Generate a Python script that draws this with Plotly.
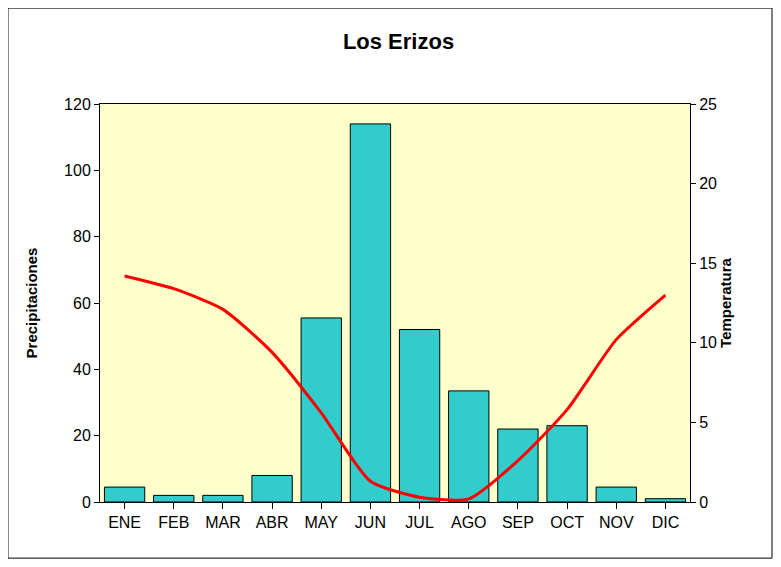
import plotly.graph_objects as go

months = ["ENE", "FEB", "MAR", "ABR", "MAY", "JUN", "JUL", "AGO", "SEP", "OCT", "NOV", "DIC"]
precip = [4.5, 2, 2, 8, 55.5, 114, 52, 33.5, 22, 23, 4.5, 1]
temp = [14.2, 13.4, 12.1, 9.4, 5.6, 1.3, 0.3, 0.2, 2.6, 5.8, 10.2, 13.0]

fig = go.Figure()
fig.add_trace(go.Bar(x=months, y=precip, marker=dict(color="#33CCCC", line=dict(color="black", width=1)),
                     width=0.82, yaxis="y"))
fig.add_trace(go.Scatter(x=months, y=temp, mode="lines",
                         line=dict(color="#FF0000", width=3, shape="spline", smoothing=0.6),
                         yaxis="y2"))

fig.update_layout(
    width=781, height=567, showlegend=False,
    paper_bgcolor="white", plot_bgcolor="#FFFFCC",
    font=dict(family="Liberation Sans, Arial", size=16, color="black"),
    title=dict(text="<b>Los Erizos</b>", x=0.5, xanchor="center", y=0.955, font=dict(size=22)),
    margin=dict(l=92, r=99, t=96, b=73),
    xaxis=dict(showline=True, linecolor="black", ticks="outside", tickcolor="black", ticklen=6,
               mirror=True),
    yaxis=dict(range=[0, 120], dtick=20, showgrid=False, showline=True, linecolor="black",
               ticks="outside", tickcolor="black",
               title=dict(text="<b>Precipitaciones</b>", font=dict(size=15), standoff=22)),
    yaxis2=dict(range=[0, 25], dtick=5, overlaying="y", side="right", showgrid=False,
                showline=True, linecolor="black", ticks="outside", tickcolor="black",
                title=dict(text="<b>Temperatura</b>", font=dict(size=15), standoff=0)),
    shapes=[dict(type="rect", xref="paper", yref="paper", x0=-0.156, x1=1.139, y0=-0.141, y1=1.241,
                 line=dict(color="black", width=1))],
)

fig.write_html("out.html")
